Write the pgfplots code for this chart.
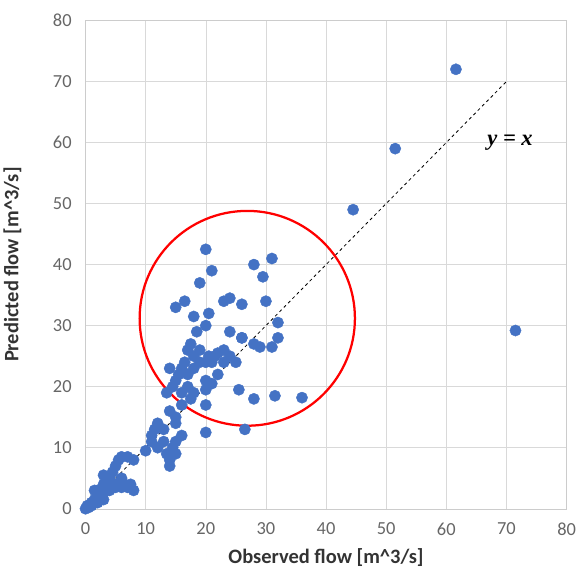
\documentclass[border=0pt]{standalone}
\usepackage{pgfplots}
\pgfplotsset{compat=1.18}
\usepackage{fontspec}
\setmainfont{Carlito}
\newfontfamily\serif{Liberation Serif}
\definecolor{pblue}{RGB}{68,114,196}
\begin{document}
\begin{tikzpicture}
\begin{axis}[
 scale only axis, width=470pt, height=477pt,
 xmin=0,xmax=80,ymin=0,ymax=80,
 xtick={0,10,...,80}, ytick={0,10,...,80},
 grid=major, grid style={gray!30},
 axis line style={gray!40}, tick style={draw=none},
 ticklabel style={font=\fontsize{18}{20}\selectfont, text=gray!80!black},
 yticklabel style={xshift=-10pt}, xticklabel style={yshift=-10pt},
 /pgf/number format/assume math mode=true,
 xlabel={\bfseries Observed flow [m\textasciicircum 3/s]},
 ylabel={\bfseries Predicted flow [m\textasciicircum 3/s]},
 label style={font=\fontsize{20}{22}\selectfont, text=black!80},
 xlabel style={yshift=-6pt}, ylabel style={yshift=24pt},
 clip=false,
]
\addplot[only marks, mark=*, mark size=5.5pt, pblue, mark options={fill=pblue, draw=pblue}] coordinates {
(0,0)(0.3,0.5)(0.5,0.2)(1,1)(1,0.5)(1.5,1.5)(2,2)(2,3)(2.5,2)(3,4)(3,5.5)(3.5,3)(4,4)(4,5)(4.5,6)(5,7)(5,4)(5.5,8)(6,8.5)(6,5)(6.5,4)(7,8.5)(7,3.5)(7.5,4)(8,8)(8,3)(6,3.5)(5,3.5)(4,3)(2,1)(1.5,3)(3,1.5)
(10,9.5)(11,11)(11,12)(11.5,13)(12,10)(12,14)(13,13)(13,11)(13.5,9)(14,7)(14,8)(14.5,10)(15,9)(15,11)(14,16)(15,14)(15,15)(16,12)(13.5,19)(14,23)(14.5,20)(15,21)(15.5,22)(16,17)(16,19)(16,23)(16.5,24)(17,20)(17,22)(17.5,18)(18,19)(18,23)(18,25)(19,24)(19,26)(20,17)(20,12.5)(20,21)(20.5,25)(21,24)(22,25.5)(23,26)(24,25)(24,29)(23,24)(25,24)(26,28)(25.5,19.5)(26.5,13)(28,18)(28,27)(29,26.5)(31.5,18.5)(31,26.5)(32,28)(32,30.5)(36,18.2)(15,33)(16.5,34)(18,31.5)(19,37)(20,42.5)(20.5,32)(20,30)(21,39)(21.5,25)(23,34)(24,34.5)(26,33.5)(26,28)(28,40)(29.5,38)(30,34)(31,41)(17.5,27)(18.5,29)(20,24)(22,22)(20,19.5)(21,20.5)(17,26)
(44.5,49)(51.5,59)(61.6,72)(71.5,29.2)
};
\addplot[black, dashed, thick] coordinates {(0,0)(70,70)};
\draw[red, line width=2.2pt] (axis cs:26.9,31.2) ellipse [x radius=17.9, y radius=17.6];
\node[font=\serif\fontsize{22}{24}\selectfont\bfseries\itshape] at (axis cs:70.6,59.9) {y = x};
\path (rel axis cs:1,1) ++(17pt,20pt) coordinate (tr);
\useasboundingbox (rel axis cs:0,0) rectangle (tr);
\end{axis}
\end{tikzpicture}
\end{document}
